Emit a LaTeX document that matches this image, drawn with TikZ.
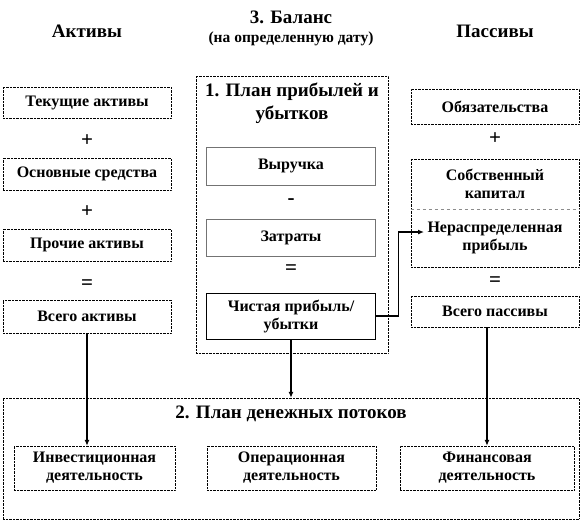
\documentclass[tikz,border=0pt]{standalone}
\usepackage{fontspec}
\setmainfont{Liberation Serif}
\usepackage{tikz}
\usetikzlibrary{arrows.meta, positioning, calc}
\tikzstyle{arrow} = [line width=1.2pt, -{Latex[length=6pt, width=5pt]}]

\begin{document}
\begin{tikzpicture}[
	x=1pt, y=-1pt,
	every node/.style={font=\bfseries\fontsize{16}{18}\selectfont},
	item/.style={rectangle, draw=black, densely dotted, minimum width=168pt, minimum height=32pt, align=center, inner sep=2pt},
	step box/.style={rectangle, draw=black!55, minimum width=169pt, align=center, inner sep=2pt},
	frame/.style={rectangle, draw=black, densely dotted},
	heading/.style={font=\bfseries\fontsize{19}{22}\selectfont},
	op/.style={font=\bfseries\fontsize{21}{21}\selectfont}
]
\useasboundingbox (0,0) rectangle (582,523);

% Headings
\node[heading] (hassets) at (87,31) {Активы};
\node[heading] (hbalance) at (291,17) {3. Баланс};
\node[font=\bfseries\fontsize{15.5}{17}\selectfont] (hdate) at (291,39) {(на определенную дату)};
\node[heading] (hliab) at (495,31) {Пассивы};

% Assets column
\node[item, minimum height=31pt] (current) at (87,102.5) {Текущие активы};
\node[op] (plus1) at (87,141) {+};
\node[item] (fixed) at (87,174) {Основные средства};
\node[op] (plus2) at (87,212) {+};
\node[item] (other) at (87,245) {Прочие активы};
\node[op] (eq1) at (87,285) {=};
\node[item, minimum height=33pt] (totalassets) at (87,316.5) {Всего активы};

% Profit and loss plan
\node[frame, minimum width=192pt, minimum height=277pt] (plan) at (292,214.5) {};
\node[font=\bfseries\fontsize{19}{23}\selectfont, align=center] (plantitle) at (292,103) {1. План прибылей и\\убытков};
\node[step box, minimum height=38pt] (revenue) at (291,166) {Выручка};
\node[op] (minus) at (291,202) {-};
\node[step box, minimum height=37pt] (costs) at (291,237.5) {Затраты};
\node[op] (eq2) at (291,270) {=};
\node[step box, draw=black, minimum height=46pt] (profit) at (291,316) {Чистая прибыль/\\убытки};

% Liabilities column
\node[item, minimum height=35pt] (debt) at (495,106.5) {Обязательства};
\node[op] (plus3) at (495,139) {+};
\node[item, minimum height=108pt] (eqbox) at (495,213) {};
\node[minimum height=50pt, align=center] (equity) at (495,184) {Собственный\\капитал};
\node[minimum height=58pt, align=center] (retained) at (495,238) {Нераспределенная\\прибыль};
\draw[black!45, dashed, line width=0.8pt] (eqbox.west |- equity.south) -- (eqbox.east |- equity.south);
\node[op] (eq3) at (495,282) {=};
\node[item, minimum height=31pt] (totalliab) at (495,311.5) {Всего пассивы};

% Cash flow plan
\node[frame, minimum width=576pt, minimum height=121pt] (cashflow) at (291,458.5) {};
\node[font=\bfseries\fontsize{19}{22}\selectfont] (cftitle) at (291,414) {2. План денежных потоков};
\node[item, minimum width=161pt, minimum height=44pt] (invest) at (94.5,468) {Инвестиционная\\деятельность};
\node[item, minimum width=169pt, minimum height=44pt] (operate) at (291.5,468) {Операционная\\деятельность};
\node[item, minimum width=174pt, minimum height=44pt] (finance) at (487,468) {Финансовая\\деятельность};

% Arrows
\draw[arrow] (profit.east) -- ++(23,0) |- ([yshift=6pt]retained.west);
\draw[arrow] (totalassets.south) -- (totalassets.south |- invest.north);
\draw[arrow] (profit.south) -- (profit.south |- cashflow.north);
\draw[arrow] (finance.north |- totalliab.south) -- (finance.north);

\end{tikzpicture}
\end{document}
